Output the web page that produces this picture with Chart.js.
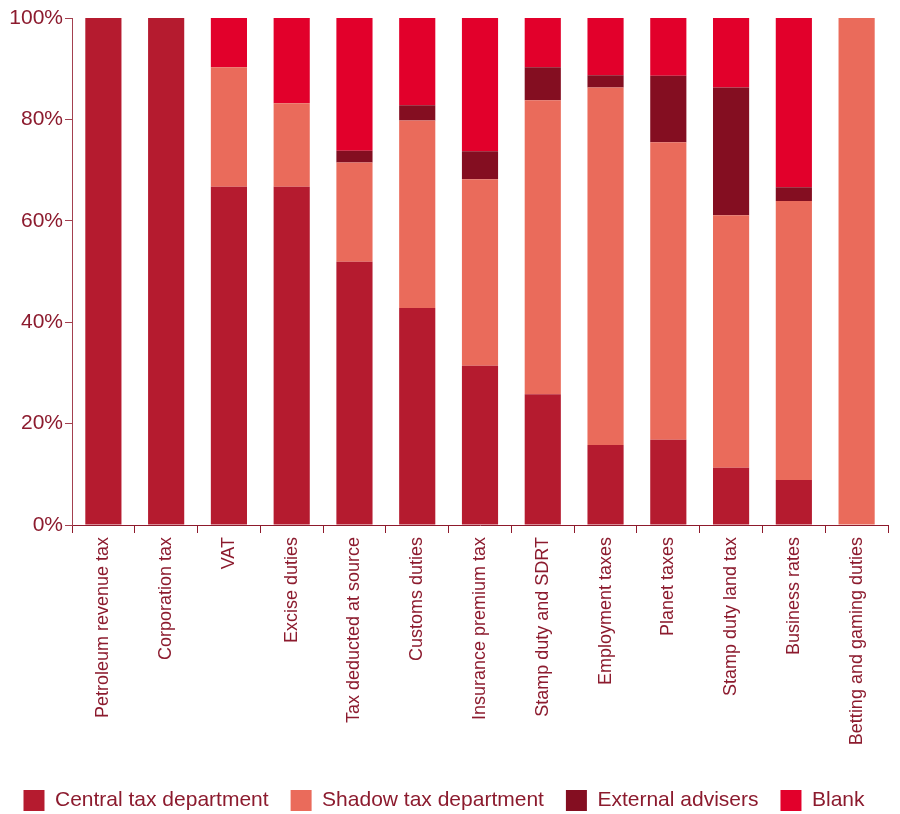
<!DOCTYPE html>
<html>
<head>
<meta charset="utf-8">
<script src="https://cdn.jsdelivr.net/npm/chart.js@4"></script>
<style>
  html, body { margin: 0; padding: 0; background: #fff; }
  #wrap { width: 900px; height: 814px; position: relative; }
</style>
</head>
<body>
<div id="wrap"><canvas id="taxChart"></canvas></div>
<script>
const categories = ['Petroleum revenue tax', 'Corporation tax', 'VAT', 'Excise duties',
  'Tax deducted at source', 'Customs duties', 'Insurance premium tax', 'Stamp duty and SDRT',
  'Employment taxes', 'Planet taxes', 'Stamp duty land tax', 'Business rates',
  'Betting and gaming duties'];

const centralTax = [100, 100, 66.7, 66.7, 51.9, 42.8, 31.4, 25.8, 15.8, 16.8, 11.3, 8.9, 0];
const shadowTax = [0, 0, 23.6, 16.5, 19.6, 37.0, 36.8, 58.0, 70.5, 58.7, 49.8, 55.0, 100];
const externalAdvisers = [0, 0, 0, 0, 2.3, 3.0, 5.5, 6.5, 2.4, 13.1, 25.2, 2.7, 0];
const blank = [0, 0, 9.7, 16.8, 26.2, 17.2, 26.3, 9.7, 11.3, 11.4, 13.7, 33.4, 0];

const yTicks = [0, 20, 40, 60, 80, 100];

const textColor = '#8c1b2e';
const font = 'Liberation Sans, Arial, Helvetica, sans-serif';

const ctx = document.getElementById('taxChart').getContext('2d');
const taxChart = new Chart(ctx, {
    type: 'bar',
    data: {
        labels: categories,
        datasets: [
            { label: 'Central tax department', data: centralTax, backgroundColor: '#b51b2f' },
            { label: 'Shadow tax department', data: shadowTax, backgroundColor: '#ea6b5b' },
            { label: 'External advisers', data: externalAdvisers, backgroundColor: '#840e21' },
            { label: 'Blank', data: blank, backgroundColor: '#e2002b' }
        ]
    },
    options: {
        responsive: true,
        maintainAspectRatio: false,
        animation: false,
        datasets: {
            bar: { categoryPercentage: 0.8, barPercentage: 0.72, borderWidth: 0 }
        },
        layout: { padding: { left: 0, right: 12, top: 18, bottom: -7 } },
        plugins: {
            tooltip: { enabled: false },
            legend: {
                position: 'bottom',
                labels: {
                    boxWidth: 21,
                    boxHeight: 21,
                    padding: 22,
                    color: textColor,
                    font: { family: font, size: 21 }
                }
            }
        },
        scales: {
            x: {
                stacked: true,
                afterFit: axis => { axis.height = 243; },
                grid: { display: true, drawOnChartArea: false, drawTicks: true, tickLength: 8, color: '#8e1a2c', offset: true },
                border: { color: '#8e1a2c', width: 1 },
                ticks: {
                    color: textColor,
                    font: { family: font, size: 18 },
                    minRotation: 90,
                    maxRotation: 90,
                    padding: 4,
                    autoSkip: false
                }
            },
            y: {
                stacked: true,
                min: 0,
                max: 100,
                afterFit: axis => { axis.width = 72; },
                afterBuildTicks: axis => { axis.ticks = yTicks.map(v => ({ value: v })); },
                grid: { display: true, drawOnChartArea: false, drawTicks: true, tickLength: 7, color: '#a3404f' },
                border: { color: '#a3404f', width: 1 },
                ticks: {
                    color: textColor,
                    font: { family: font, size: 21 },
                    padding: 2,
                    callback: value => value + '%'
                }
            }
        }
    }
});
</script>
</body>
</html>
